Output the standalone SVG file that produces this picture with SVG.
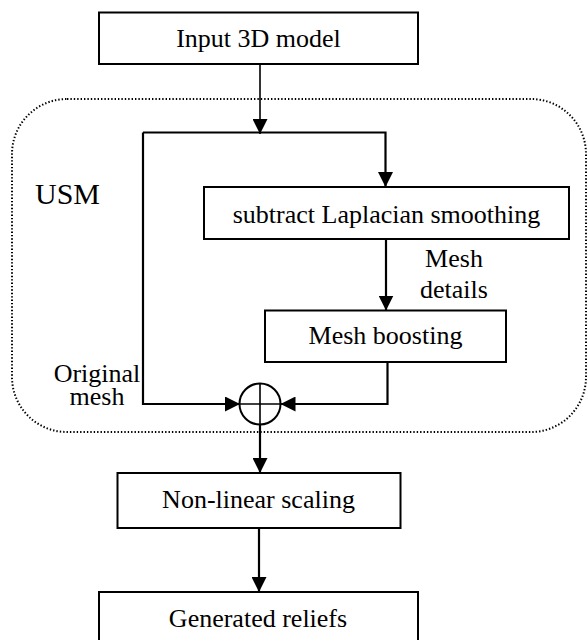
<svg xmlns="http://www.w3.org/2000/svg" width="587" height="640" viewBox="0 0 587 640">
  <style>
    .box { fill: #fff; stroke: #000; stroke-width: 2; }
    .lbl { font-family: "Liberation Serif", "Times New Roman", serif; font-size: 26px; fill: #000; text-anchor: middle; }
    .wire { fill: none; stroke: #000; stroke-width: 2.2; }
    .thin { stroke-width: 1.6; }
    .usm { fill: none; stroke: #000; stroke-width: 2; stroke-dasharray: 1.4 2; }
  </style>
  <defs>
    <marker id="arrow" markerUnits="userSpaceOnUse" markerWidth="15" markerHeight="15" refX="15" refY="7.5" orient="auto" viewBox="0 0 15 15">
      <path d="M0,0 L15,7.5 L0,15 z" fill="#000"/>
    </marker>
  </defs>

  <rect width="587" height="640" fill="#fff"/>

  <!-- USM region -->
  <g id="usm">
    <rect class="usm" x="12" y="99" width="574" height="333" rx="55" ry="55"/>
    <text x="35" y="204" font-family="Liberation Serif, Times New Roman, serif" font-size="30">USM</text>
  </g>

  <!-- connectors -->
  <g id="connectors">
    <path class="wire thin" d="M260 64 V134" marker-end="url(#arrow)"/>
    <path class="wire" d="M143 132.5 H385.5 V187" marker-end="url(#arrow)"/>
    <path class="wire" d="M143 132.5 V404 H240" marker-end="url(#arrow)"/>
    <path class="wire" d="M386 239 V310.5" marker-end="url(#arrow)"/>
    <path class="wire" d="M387.5 362 V404 H280.5" marker-end="url(#arrow)"/>
    <path class="wire" d="M260 424.5 V473" marker-end="url(#arrow)"/>
    <path class="wire" d="M259 528 V592" marker-end="url(#arrow)"/>
    <text class="lbl" x="454" y="267">Mesh</text>
    <text class="lbl" x="454" y="298">details</text>
    <text class="lbl" x="97" y="382">Original</text>
    <text class="lbl" x="97" y="405">mesh</text>
  </g>

  <g id="input">
    <rect class="box" x="99" y="12.5" width="319" height="51.5"/>
    <text class="lbl" x="258.5" y="47">Input 3D model</text>
  </g>

  <g id="subtract">
    <rect class="box" x="204" y="187" width="365" height="52"/>
    <text class="lbl" x="386.5" y="223">subtract Laplacian smoothing</text>
  </g>

  <g id="boosting">
    <rect class="box" x="265" y="310.5" width="241" height="51.5"/>
    <text class="lbl" x="385.5" y="344">Mesh boosting</text>
  </g>

  <g id="sum">
    <circle cx="260" cy="404" r="20.5" fill="#fff" stroke="#000" stroke-width="2"/>
    <path d="M260 383.5 V424.5 M239.5 404 H280.5" stroke="#000" stroke-width="1.6" fill="none"/>
  </g>

  <g id="scaling">
    <rect class="box" x="117.5" y="473" width="283" height="55"/>
    <text class="lbl" x="258.5" y="508">Non-linear scaling</text>
  </g>

  <g id="reliefs">
    <rect class="box" x="99" y="592" width="319" height="60"/>
    <text class="lbl" x="258" y="627">Generated reliefs</text>
  </g>
</svg>
